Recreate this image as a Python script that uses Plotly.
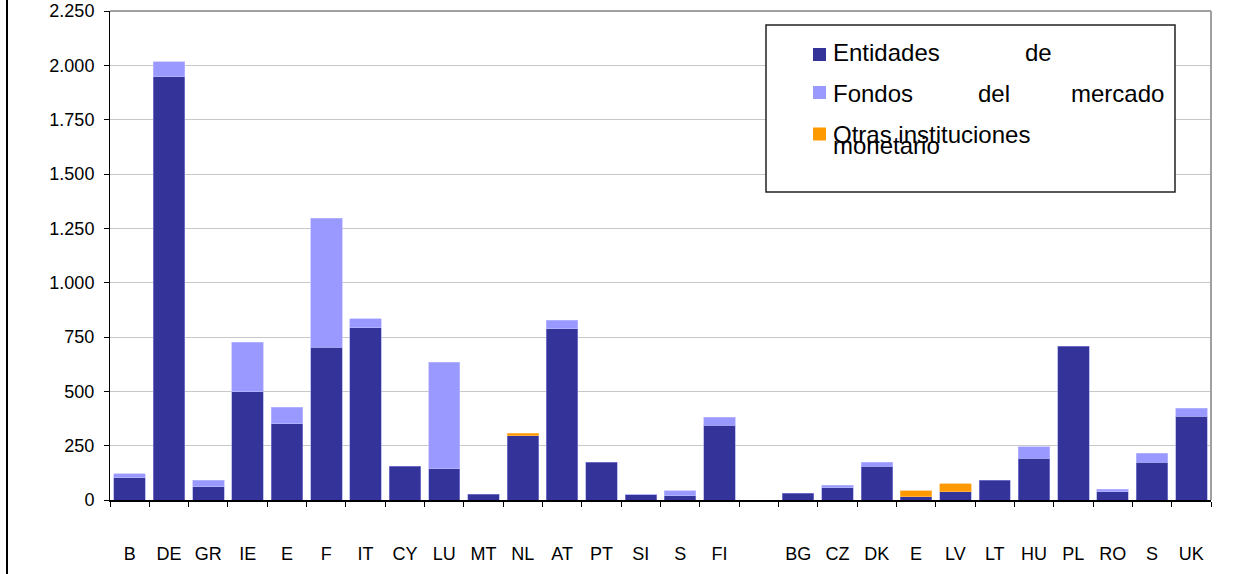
import plotly.graph_objects as go

# ---- data ----
cat_ids = ["BE", "DE", "GR", "IE", "ES", "FR", "IT", "CY", "LU", "MT", "NL", "AT",
           "PT", "SI", "SK", "FI", "gap", "BG", "CZ", "DK", "EE", "LV", "LT", "HU",
           "PL", "RO", "SE", "UK"]
tick_labels = ["B", "DE", "GR", "IE", "E", "F", "IT", "CY", "LU", "MT", "NL", "AT",
               "PT", "SI", "S", "FI", "", "BG", "CZ", "DK", "E", "LV", "LT", "HU",
               "PL", "RO", "S", "UK"]
entidades = [103, 1947, 61, 497, 350, 704, 793, 155, 144, 26, 296, 787,
             173, 25, 20, 343, None, 32, 57, 155, 14, 38, 90, 192,
             708, 38, 173, 386]
fondos = [17, 70, 29, 228, 76, 593, 40, 0, 489, 0, 0, 39,
          0, 2, 23, 37, None, 0, 10, 18, 0, 0, 0, 52,
          0, 11, 42, 36]
otras = [0, 0, 0, 0, 0, 0, 0, 0, 0, 0, 12, 0,
         0, 0, 0, 0, None, 0, 0, 0, 29, 36, 0, 0,
         0, 0, 0, 0]
series_names = ["Entidades de", "Fondos del mercado", "Otras instituciones"]
colors = ["#333399", "#9999FF", "#FF9900"]
edge_colors = ["rgba(150,150,230,0.7)", "rgba(190,190,255,0.8)", "rgba(255,190,100,0.8)"]

# ---- layout geometry (pixels) ----
W, H = 1234, 574
L, R, T, B = 110, 23, 11, 74
PW, PH = W - L - R, H - T - B

def px_x(x):
    return (x - L) / PW

def px_y(y):
    return (H - B - y) / PH

fig = go.Figure()
for name, vals, col, ec in zip(series_names, [entidades, fondos, otras], colors, edge_colors):
    yv = [v if v else None for v in vals]  # no outline for empty segments
    fig.add_trace(go.Bar(x=cat_ids, y=yv, name=name, marker_color=col,
                         marker_line_width=0.8, marker_line_color=ec, showlegend=False))

FONT = "Liberation Sans, Arial, sans-serif"
fig.update_layout(
    width=W, height=H,
    margin=dict(l=L, r=R, t=T, b=B, autoexpand=False),
    barmode="stack", bargap=0.2,
    plot_bgcolor="white", paper_bgcolor="white",
    separators=",.",
    font=dict(family=FONT, size=18, color="black"),
)
fig.update_xaxes(
    type="category", categoryorder="array", categoryarray=cat_ids,
    tickmode="array", tickvals=cat_ids, ticktext=tick_labels,
    tickson="boundaries", ticks="outside", ticklen=5, tickcolor="black",
    showline=True, linecolor="black", linewidth=2, showgrid=False,
    ticklabelstandoff=36, tickfont=dict(size=18), automargin=False,
    range=[-0.5, len(cat_ids) - 0.5],
)
fig.update_yaxes(
    range=[0, 2250], dtick=250, tickformat=",d",
    ticks="outside", ticklen=5, tickcolor="black",
    showline=True, linecolor="black", linewidth=1,
    showgrid=True, gridcolor="#C8C8C8", gridwidth=1,
    zeroline=False, ticklabelstandoff=6, tickfont=dict(size=18), automargin=False,
)

shapes = []
# grey plot-area border (top, right)
shapes.append(dict(type="line", xref="paper", yref="paper", x0=0, x1=1, y0=1, y1=1,
                   line=dict(color="#A0A0A0", width=2)))
shapes.append(dict(type="line", xref="paper", yref="paper", x0=1, x1=1, y0=0, y1=1,
                   line=dict(color="#A0A0A0", width=2)))
# outer frame left edge
shapes.append(dict(type="line", xref="paper", yref="paper", x0=px_x(7), x1=px_x(7),
                   y0=px_y(0), y1=px_y(H), line=dict(color="black", width=2)))
# legend box
shapes.append(dict(type="rect", xref="paper", yref="paper",
                   x0=px_x(766), x1=px_x(1175), y0=px_y(192), y1=px_y(25),
                   fillcolor="white", line=dict(color="#222222", width=1.5), layer="above"))
# legend swatches
for col, yc in zip(colors, [54.5, 92.5, 134]):
    shapes.append(dict(type="rect", xref="paper", yref="paper",
                       x0=px_x(813), x1=px_x(826), y0=px_y(yc + 6.5), y1=px_y(yc - 6.5),
                       fillcolor=col, line=dict(width=0), layer="above"))

annotations = []
legend_words = [("Entidades", 831, 53), ("de", 1023, 53),
                ("Fondos", 831, 94), ("del", 976, 94), ("mercado", 1069, 94),
                ("Otras instituciones", 831, 134), ("monetario", 831, 145)]
for txt, x, y in legend_words:
    annotations.append(dict(text=txt, xref="paper", yref="paper", x=px_x(x), y=px_y(y),
                            xanchor="left", yanchor="middle", showarrow=False,
                            font=dict(family=FONT, size=24, color="black")))

fig.update_layout(shapes=shapes, annotations=annotations)
fig.write_html(
    "out.html",
    config={"displayModeBar": False},
    post_script="document.body.style.margin='0';document.body.style.overflow='hidden';",
)
